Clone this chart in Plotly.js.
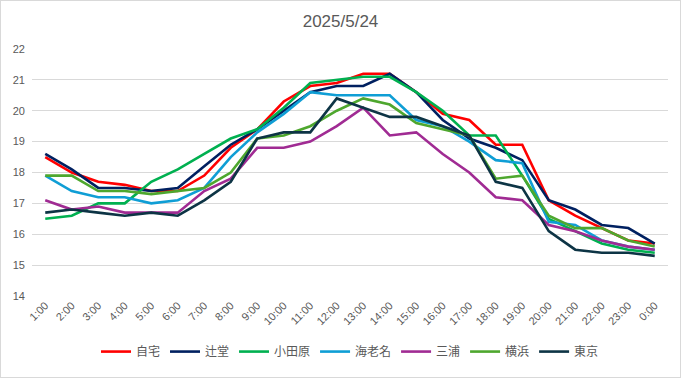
<!DOCTYPE html>
<html>
<head>
<meta charset="utf-8">
<script src="https://cdn.plot.ly/plotly-3.0.1.min.js"></script>
<style>
  html, body { margin: 0; padding: 0; background: #fff; }
  #wrap { position: relative; width: 681px; height: 378px; }
  #chart { position: absolute; left: 0; top: 0; width: 681px; height: 378px; }
  #frame { position: absolute; left: 0; top: 0; width: 681px; height: 378px; box-sizing: border-box; border: 1px solid #d9d9d9; pointer-events: none; }
</style>
</head>
<body>
<div id="wrap"><div id="chart"></div><div id="frame"></div></div>
<script>
const hours = ["1:00","2:00","3:00","4:00","5:00","6:00","7:00","8:00","9:00","10:00","11:00","12:00",
               "13:00","14:00","15:00","16:00","17:00","18:00","19:00","20:00","21:00","22:00","23:00","0:00"];

const jitaku   = [18.5,18.0,17.7,17.6,17.4,17.4,17.9,18.8,19.4,20.3,20.8,20.9,21.2,21.2,20.6,19.9,19.7,18.9,18.9,17.1,16.6,16.2,15.8,15.7];
const tsujido  = [18.6,18.1,17.5,17.5,17.4,17.5,18.2,18.9,19.4,20.0,20.6,20.8,20.8,21.2,20.6,19.7,19.1,18.8,18.4,17.1,16.8,16.3,16.2,15.7];
const odawara  = [16.5,16.6,17.0,17.0,17.7,18.1,18.6,19.1,19.4,20.1,20.9,21.0,21.1,21.1,20.6,20.0,19.2,19.2,17.9,16.5,16.1,15.7,15.5,15.4];
const ebina    = [17.9,17.4,17.2,17.2,17.0,17.1,17.5,18.5,19.3,19.9,20.6,20.5,20.5,20.5,19.7,19.5,19.0,18.4,18.3,16.4,16.3,15.8,15.6,15.5];
const miura    = [17.1,16.8,16.9,16.7,16.7,16.7,17.4,17.8,18.8,18.8,19.0,19.5,20.1,19.2,19.3,18.6,18.0,17.2,17.1,16.3,16.1,15.8,15.6,15.5];
const yokohama = [17.9,17.9,17.4,17.4,17.3,17.4,17.5,18.0,19.1,19.2,19.5,20.0,20.4,20.2,19.6,19.4,19.2,17.8,17.9,16.6,16.2,16.2,15.8,15.6];
const tokyo    = [16.7,16.8,16.7,16.6,16.7,16.6,17.1,17.7,19.1,19.3,19.3,20.4,20.1,19.8,19.8,19.5,19.2,17.7,17.5,16.1,15.5,15.4,15.4,15.3];

const seriesNames = ["自宅","辻堂","小田原","海老名","三浦","横浜","東京"];
const seriesData = [jitaku, tsujido, odawara, ebina, miura, yokohama, tokyo];
const seriesColors = ["#FF0000","#002060","#00B050","#0F9ED5","#A02B93","#4EA72E","#0D3445"];

const traces = seriesNames.map((n, i) => ({
  type: "scatter",
  mode: "lines",
  name: n,
  x: hours,
  y: seriesData[i],
  line: { color: seriesColors[i], width: 2.6 }
}));

const layout = {
  width: 681, height: 378,
  margin: { l: 32, r: 13, t: 49, b: 78 },
  paper_bgcolor: "#ffffff",
  plot_bgcolor: "#ffffff",
  font: { family: "Liberation Sans, Arial, sans-serif", color: "#595959", size: 11 },
  title: { text: "2025/5/24", x: 0.5, xanchor: "center", y: 0.945, yanchor: "middle",
           font: { size: 17, color: "#595959", family: "Liberation Sans, Arial, sans-serif" } },
  xaxis: {
    type: "category",
    range: [-0.5, 23.5],
    showgrid: false,
    zeroline: false,
    showline: false,
    ticks: "",
    tickangle: -45,
    tickfont: { size: 11, color: "#595959" },
    fixedrange: true
  },
  yaxis: {
    range: [14, 22],
    dtick: 1,
    showgrid: true,
    gridcolor: "#D9D9D9",
    gridwidth: 1,
    zeroline: false,
    showline: false,
    ticks: "",
    ticklabelstandoff: 6,
    tickfont: { size: 11, color: "#595959" },
    fixedrange: true
  },
  showlegend: true,
  legend: {
    orientation: "h",
    x: 0.5, xanchor: "center",
    y: -0.225, yanchor: "middle",
    font: { size: 12, color: "#595959", family: "Noto Sans CJK JP, sans-serif" },
    itemwidth: 30,
    tracegroupgap: 0,
    bgcolor: "rgba(0,0,0,0)"
  }
};

Plotly.newPlot("chart", traces, layout, { displayModeBar: false, staticPlot: true });
</script>
</body>
</html>
